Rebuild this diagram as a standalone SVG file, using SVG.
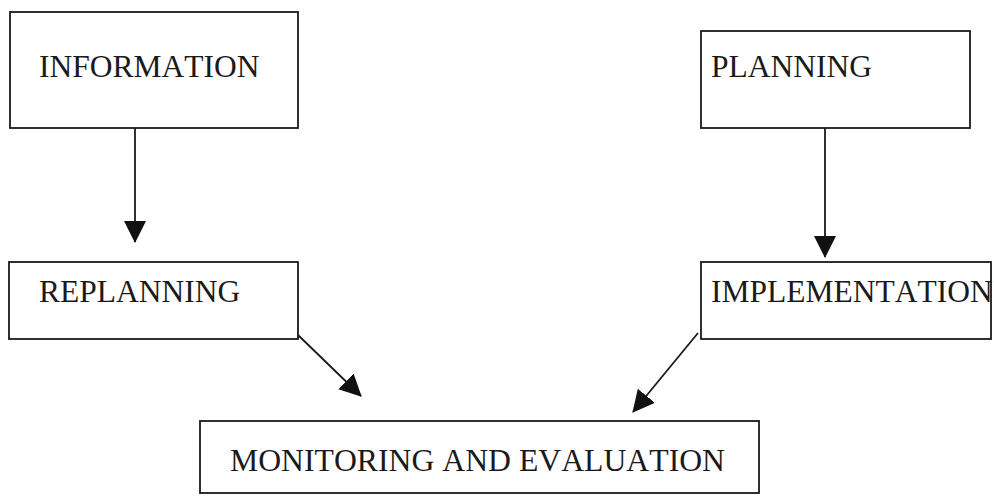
<svg xmlns="http://www.w3.org/2000/svg" width="994" height="497" viewBox="0 0 994 497">
  <style>
    .box { fill: #ffffff; stroke: #1a1a1a; stroke-width: 1.8; }
    .lbl { font-family: "Liberation Serif", "Times New Roman", serif; font-size: 31.5px; fill: #1a1a1a; font-kerning: none; }
    .edge { stroke: #1a1a1a; stroke-width: 1.8; fill: none; marker-end: url(#head); }
  </style>
  <defs>
    <marker id="head" markerUnits="userSpaceOnUse" markerWidth="22" markerHeight="22" refX="21" refY="11" orient="auto">
      <path d="M0,0 L22,11 L0,22 Z" fill="#111111"/>
    </marker>
  </defs>
  <rect width="994" height="497" fill="#ffffff"/>

  <g id="information">
    <rect class="box" x="10" y="12" width="288" height="116"/>
    <text class="lbl" x="39" y="77">INFORMATION</text>
  </g>

  <g id="planning">
    <rect class="box" x="701" y="31" width="269" height="97"/>
    <text class="lbl" x="711" y="77">PLANNING</text>
  </g>

  <g id="replanning">
    <rect class="box" x="9" y="262" width="289" height="77"/>
    <text class="lbl" x="39" y="302">REPLANNING</text>
  </g>

  <g id="implementation">
    <rect class="box" x="701" y="262" width="290" height="77"/>
    <text class="lbl" x="711" y="302">IMPLEMENTATION</text>
  </g>

  <g id="monitoring">
    <rect class="box" x="200" y="421" width="559" height="72"/>
    <text class="lbl" x="230" y="471" textLength="495" lengthAdjust="spacingAndGlyphs">MONITORING AND EVALUATION</text>
  </g>

  <g id="connectors">
    <path class="edge" d="M135,128 L135,242"/>
    <path class="edge" d="M825,128 L825,257"/>
    <path class="edge" d="M298,335 L361,396"/>
    <path class="edge" d="M698,333 L633,412"/>
  </g>
</svg>
